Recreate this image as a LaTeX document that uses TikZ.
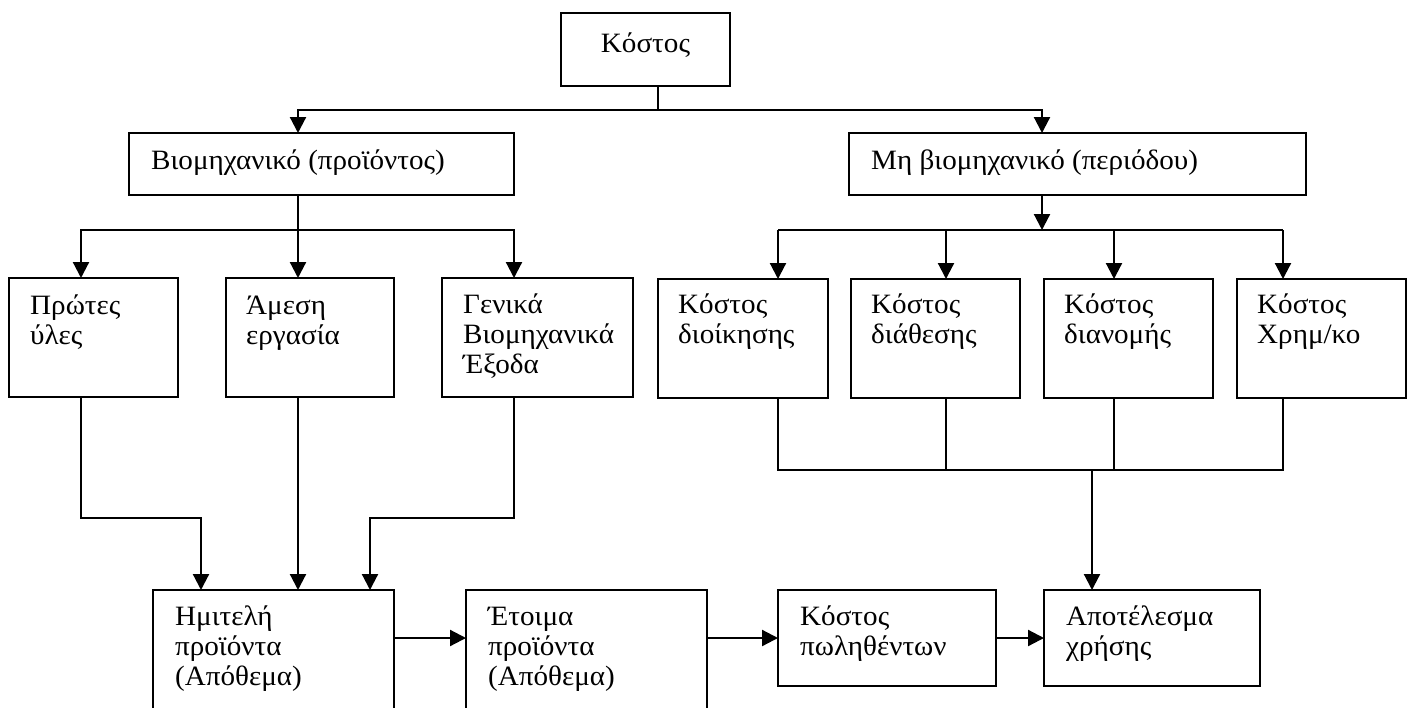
\documentclass[tikz,border=0pt]{standalone}
\usepackage{fontspec}
\setmainfont[FakeStretch=1.04]{Liberation Serif}
\usetikzlibrary{arrows.meta,calc}

\tikzset{
  box/.style={draw, line width=2.2pt, anchor=north west, inner sep=0pt, outer sep=0pt},
  % multi-line labels sit on the baseline of their last line
  lbl/.style={anchor=base west, align=left, inner sep=0pt,
              font=\fontsize{28pt}{30pt}\selectfont},
  conn/.style={line width=2.2pt},
  arr/.style={conn, -{Triangle[length=16pt,width=16pt]}}
}

\begin{document}
\begin{tikzpicture}[x=1pt,y=-1pt]
\useasboundingbox (0,0) rectangle (1410,707);
\clip (0,0) rectangle (1410,707);

% --- boxes ---
\node[box, minimum width=169pt, minimum height=73pt]  (kostos) at (561,13) {};
\node[box, minimum width=385pt, minimum height=62pt]  (bio)    at (129,133) {};
\node[box, minimum width=457pt, minimum height=62pt]  (mh)     at (849,133) {};

\node[box, minimum width=169pt, minimum height=119pt] (pu)  at (9,278) {};
\node[box, minimum width=168pt, minimum height=119pt] (aer) at (226,278) {};
\node[box, minimum width=191pt, minimum height=119pt] (gbe) at (442,278) {};

\node[box, minimum width=170pt, minimum height=119pt] (c1) at (658,279) {};
\node[box, minimum width=169pt, minimum height=119pt] (c2) at (851,279) {};
\node[box, minimum width=169pt, minimum height=119pt] (c3) at (1044,279) {};
\node[box, minimum width=169pt, minimum height=119pt] (c4) at (1237,279) {};

\node[box, minimum width=241pt, minimum height=140pt] (hmi) at (153,590) {};
\node[box, minimum width=241pt, minimum height=140pt] (eto) at (466,590) {};
\node[box, minimum width=218pt, minimum height=96pt]  (kp)  at (778,590) {};
\node[box, minimum width=216pt, minimum height=96pt]  (apo) at (1044,590) {};

% --- labels ---
\node[lbl, anchor=base] (kostos-t) at ($(kostos.north)+(0,39)$) {Κόστος};
\node[lbl] (bio-t) at ($(bio.north west)+(22,36)$) {Βιομηχανικό (προϊόντος)};
\node[lbl] (mh-t)  at ($(mh.north west)+(22,36)$)  {Μη βιομηχανικό (περιόδου)};

\node[lbl] (pu-t)  at ($(pu.north west)+(21,66)$)  {Πρώτες\\ύλες};
\node[lbl] (aer-t) at ($(aer.north west)+(20,66)$) {Άμεση\\εργασία};
\node[lbl] (gbe-t) at ($(gbe.north west)+(21,95)$) {Γενικά\\Βιομηχανικά\\Έξοδα};

\node[lbl] (c1-t) at ($(c1.north west)+(20,64)$) {Κόστος\\διοίκησης};
\node[lbl] (c2-t) at ($(c2.north west)+(20,64)$) {Κόστος\\διάθεσης};
\node[lbl] (c3-t) at ($(c3.north west)+(20,64)$) {Κόστος\\διανομής};
\node[lbl] (c4-t) at ($(c4.north west)+(20,64)$) {Κόστος\\Χρημ/κο};

\node[lbl] (hmi-t) at ($(hmi.north west)+(22,95)$) {Ημιτελή\\προϊόντα\\(Απόθεμα)};
\node[lbl] (eto-t) at ($(eto.north west)+(22,95)$) {Έτοιμα\\προϊόντα\\(Απόθεμα)};
\node[lbl] (kp-t)  at ($(kp.north west)+(22,65)$)  {Κόστος\\πωληθέντων};
\node[lbl] (apo-t) at ($(apo.north west)+(22,65)$) {Αποτέλεσμα\\χρήσης};

% --- junction points ---
\coordinate (busA)  at (658,110);
\coordinate (bioIn) at (298,110);
\coordinate (mhIn)  at (1042,110);

\coordinate (bioOut) at (298,230);
\coordinate (puIn)   at (81,230);
\coordinate (gbeIn)  at (514,230);

\coordinate (mhOut) at (1042,230);
\coordinate (c1In)  at (778,230);
\coordinate (c2In)  at (946,230);
\coordinate (c3In)  at (1114,230);
\coordinate (c4In)  at (1283,230);

\coordinate (sumOut) at (1092,470);

\coordinate (puTurn)  at (81,518);
\coordinate (puDrop)  at (201,518);
\coordinate (gbeTurn) at (514,518);
\coordinate (gbeDrop) at (370,518);

% --- top level split ---
\draw[conn] (busA |- kostos.south) -- (busA);
\draw[arr] (busA) -- (bioIn) -- (bioIn |- bio.north);
\draw[arr] (busA) -- (mhIn) -- (mhIn |- mh.north);

% --- manufacturing cost branch ---
\draw[conn] (bioOut |- bio.south) -- (bioOut);
\draw[arr] (bioOut) -- (puIn) -- (puIn |- pu.north);
\draw[arr] (bioOut) -- (bioOut |- aer.north);
\draw[arr] (bioOut) -- (gbeIn) -- (gbeIn |- gbe.north);

% --- non-manufacturing cost branch ---
\draw[arr] (mhOut |- mh.south) -- (mhOut);
\draw[conn] (c1In) -- (c4In);
\draw[arr] (c1In) -- (c1In |- c1.north);
\draw[arr] (c2In) -- (c2In |- c2.north);
\draw[arr] (c3In) -- (c3In |- c3.north);
\draw[arr] (c4In) -- (c4In |- c4.north);

% --- period costs gathered into the result ---
\draw[conn] (c1In |- c1.south) -- (c1In |- sumOut) -- (c4In |- sumOut) -- (c4In |- c4.south);
\draw[conn] (c2In |- c2.south) -- (c2In |- sumOut);
\draw[conn] (c3In |- c3.south) -- (c3In |- sumOut);
\draw[arr] (sumOut) -- (sumOut |- apo.north);

% --- product costs into work in progress ---
\draw[arr] (puTurn |- pu.south) -- (puTurn) -- (puDrop) -- (puDrop |- hmi.north);
\draw[arr] (bioOut |- aer.south) -- (bioOut |- hmi.north);
\draw[arr] (gbeTurn |- gbe.south) -- (gbeTurn) -- (gbeDrop) -- (gbeDrop |- hmi.north);

% --- flow along the bottom row ---
\draw[arr] (hmi.east |- kp.west) -- (eto.west |- kp.west);
\draw[arr] (eto.east |- kp.west) -- (kp.west);
\draw[arr] (kp.east) -- (apo.west);
\end{tikzpicture}
\end{document}
